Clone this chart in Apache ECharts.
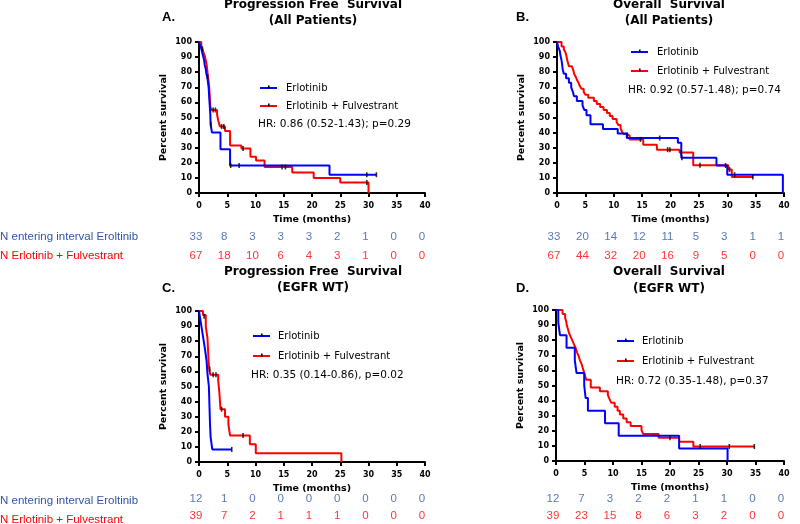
<!DOCTYPE html>
<html><head><meta charset="utf-8">
<script src="https://cdn.jsdelivr.net/npm/echarts@6/dist/echarts.min.js"></script>
<style>html,body{margin:0;padding:0;background:#fff}#c{width:800px;height:524px}</style>
</head><body><div id="c"></div>
<script>
// ---------- DATA ----------
const xTicks = [0,5,10,15,20,25,30,35,40];
// Panel A: PFS, all patients
const pfsAllErl = [[0,100],[0.3,97],[0.5,94],[0.7,91],[0.9,88],[1.0,85],[1.2,82],[1.3,79],[1.5,76],[1.6,73],[1.7,70],[1.8,64],[1.9,58],[2.0,52],[2.05,45.5],[2.3,40],[3.8,29],[5.5,18.2],[23.1,12.1],[31.4,12.1]];
const pfsAllFul = [[0,100],[0.4,97],[0.6,95.5],[0.8,93],[1.0,91],[1.2,88],[1.35,85],[1.5,80],[1.6,77],[1.7,74],[1.8,70],[1.9,64],[2.0,57],[2.2,55],[3.2,52],[3.4,48],[3.7,44],[4.6,41],[5.5,31.5],[7.5,29.5],[9.1,24],[10.1,21.5],[11.6,17.2],[16.5,13.5],[20.3,10],[25,7],[30,0]];
const pfsAllErlCens = [[2.1,45.5],[5.6,18.2],[7.1,18.2],[29.7,12.1],[31.4,12.1]];
const pfsAllFulCens = [[0.6,95.5],[1.5,77],[2.5,55],[2.9,55],[4.0,44],[4.4,44],[7.8,29.5],[14.7,17.2],[15.3,17.2],[29.7,7]];
// Panel B: OS, all patients
const osAllErl = [[0,100],[0.2,97],[0.5,94],[0.6,91],[0.8,88],[0.9,85],[1.0,82],[1.2,79],[1.6,76],[2.1,73],[2.5,70],[2.8,67],[3.0,64],[3.5,61],[4.5,58],[4.8,55],[5.2,51.5],[5.9,45.5],[8.1,42.4],[10.7,39.4],[12.3,36.4],[21.3,33.3],[21.9,23.3],[28.1,18.2],[30.0,12.1],[39.8,0]];
const osAllFul = [[0,100],[0.8,97],[1.2,95],[1.5,93],[1.7,90],[1.8,88],[2.1,84],[2.6,83],[2.9,81],[3.0,79],[3.3,77],[3.5,75],[3.8,73],[4.0,71],[4.3,69],[4.7,67],[5.0,65],[5.5,63],[6.5,61],[7.0,59],[7.6,57],[8.2,55],[8.8,53],[9.3,51],[9.8,49],[10.5,47],[10.8,45],[11.2,43],[11.4,41],[11.7,39],[12.3,38],[12.8,35.5],[15.2,32],[17.6,28.7],[21.6,26.8],[24.0,18.3],[30.2,15.5],[30.8,10.6],[34.6,10.6]];
const osAllErlCens = [[18.1,36.4],[22.0,23.3],[29.7,18.2],[31.3,12.1]];
const osAllFulCens = [[12.4,38.5],[14.7,35.5],[19.5,28.7],[19.9,28.7],[21.9,26.8],[25.2,18.3],[30.4,15.5],[34.5,10.6]];
// Panel C: PFS, EGFR WT
const pfsWtErl = [[0,100],[0.35,91.7],[0.7,83.3],[1.05,75],[1.35,66.7],[1.5,58.3],[1.75,50],[1.95,25],[2.05,16.7],[2.35,8.3],[5.8,8.3]];
const pfsWtFul = [[0,100],[0.7,97.4],[1.2,89.7],[1.5,82],[1.6,74.4],[1.7,66.7],[1.8,61.5],[2.0,57.7],[3.4,53.8],[3.6,46.2],[3.8,35],[4.6,30],[5.2,25],[5.5,17.5],[9.0,11.7],[10.05,5.8],[25.2,0]];
const pfsWtErlCens = [[5.8,8.3]];
const pfsWtFulCens = [[0.9,96.5],[1.9,61.5],[2.5,57.7],[3.0,57.7],[4.0,35],[7.8,17.5]];
// Panel D: OS, EGFR WT
const osWtErl = [[0,100],[0.4,91.7],[0.7,83.3],[1.85,75],[3.3,66.7],[3.6,58.3],[4.95,50],[5.2,41.7],[5.6,33.3],[8.6,25],[11.0,16.7],[21.6,8.3],[30.1,0]];
const osWtFul = [[0,100],[1.15,97.4],[1.6,94.9],[1.8,92.3],[1.9,89.7],[2.1,87.2],[2.3,84.6],[2.6,82],[2.9,79.5],[3.2,76.9],[3.5,74.4],[3.7,71.8],[4.0,69.2],[4.2,66.7],[4.5,64.1],[4.7,61.5],[4.9,59],[5.1,56.4],[5.3,53.8],[6.1,48.7],[7.7,46.2],[9.1,43.6],[9.4,41],[9.7,38.5],[10.3,35.9],[10.8,33.3],[11.2,30.8],[11.8,28.2],[12.4,25.6],[13.1,23.1],[15.0,20.5],[15.3,17.9],[18.0,15.4],[21.6,12.8],[24.1,9.6],[34.8,9.6]];
const osWtErlCens = [];
const osWtFulCens = [[20,15.4],[25.3,9.6],[30.4,9.6],[34.8,9.6]];
// Numbers at risk
const riskPfsAllErl = [33,8,3,3,3,2,1,0,0];
const riskPfsAllFul = [67,18,10,6,4,3,1,0,0];
const riskOsAllErl = [33,20,14,12,11,5,3,1,1];
const riskOsAllFul = [67,44,32,20,16,9,5,0,0];
const riskPfsWtErl = [12,1,0,0,0,0,0,0,0];
const riskPfsWtFul = [39,7,2,1,1,1,0,0,0];
const riskOsWtErl = [12,7,3,2,2,1,1,0,0];
const riskOsWtFul = [39,23,15,8,6,3,2,0,0];
// Text
const seriesNames = ['Erlotinib','Erlotinib + Fulvestrant'];
const riskRowLabels = ['N entering interval Eroltinib','N Erlotinib + Fulvestrant'];
const panelLetters = ['A.','B.','C.','D.'];
const titles1 = ['Progression Free  Survival','Overall  Survival','Progression Free  Survival','Overall  Survival'];
const titles2 = ['(All Patients)','(All Patients)','(EGFR WT)','(EGFR WT)'];
const hrTexts = ['HR: 0.86 (0.52-1.43); p=0.29','HR: 0.92 (0.57-1.48); p=0.74','HR: 0.35 (0.14-0.86), p=0.02','HR: 0.72 (0.35-1.48), p=0.37'];
const yName = 'Percent survival';
const xName = 'Time (months)';

// ---------- LAYOUT ----------
const BLUE = '#0000ff', RED = '#ff0000', NBLUE = '#2f55a4', NRED = '#ff0000';
const panels = [
  {grid:{left:199,top:42,width:226,height:151}, risk:{left:199,top:228,width:226,height:37},
   erl:pfsAllErl, ful:pfsAllFul, erlC:pfsAllErlCens, fulC:pfsAllFulCens, rE:riskPfsAllErl, rF:riskPfsAllFul,
   tx:313, t1y:5, t2y:21, letter:[162,17], leg:{lx:260, y1:88, y2:106, tx:286, hx:258, hy:124}},
  {grid:{left:557,top:42,width:227,height:151}, risk:{left:557,top:228,width:227,height:37},
   erl:osAllErl, ful:osAllFul, erlC:osAllErlCens, fulC:osAllFulCens, rE:riskOsAllErl, rF:riskOsAllFul,
   tx:669, t1y:5, t2y:21, letter:[516,17], leg:{lx:631, y1:52, y2:71, tx:657, hx:628, hy:90}},
  {grid:{left:199,top:311,width:226,height:151}, risk:{left:199,top:491,width:226,height:38},
   erl:pfsWtErl, ful:pfsWtFul, erlC:pfsWtErlCens, fulC:pfsWtFulCens, rE:riskPfsWtErl, rF:riskPfsWtFul,
   tx:313, t1y:272, t2y:288, letter:[162,288], leg:{lx:253, y1:336, y2:356, tx:278, hx:251, hy:375}},
  {grid:{left:556,top:310,width:228,height:151}, risk:{left:556,top:491,width:228,height:38},
   erl:osWtErl, ful:osWtFul, erlC:osWtErlCens, fulC:osWtFulCens, rE:riskOsWtErl, rF:riskOsWtFul,
   tx:669, t1y:272, t2y:289, letter:[516,288], leg:{lx:617, y1:341, y2:361, tx:642, hx:616, hy:381}}
];

const grids = [], xAxes = [], yAxes = [], series = [], graphics = [];
const axisFont = 'DejaVu Sans';
panels.forEach((p, i) => {
  const gi = grids.length;
  grids.push(Object.assign({containLabel:false}, p.grid));
  xAxes.push({gridIndex:gi, type:'value', min:0, max:40, interval:5,
    name:xName, nameLocation:'middle', nameGap:22,
    nameTextStyle:{fontFamily:axisFont, fontWeight:'bold', fontSize:9.5, color:'#000'},
    axisLine:{show:true, lineStyle:{color:'#000', width:2}},
    axisTick:{show:true, length:4, lineStyle:{color:'#000', width:2}},
    axisLabel:{fontFamily:axisFont, fontWeight:'bold', fontSize:8, color:'#000', margin:9},
    splitLine:{show:false}});
  yAxes.push({gridIndex:gi, type:'value', min:0, max:100, interval:10,
    name:yName, nameLocation:'middle', nameGap:30,
    nameTextStyle:{fontFamily:axisFont, fontWeight:'bold', fontSize:9.5, color:'#000'},
    axisLine:{show:true, lineStyle:{color:'#000', width:2}},
    axisTick:{show:true, length:4, lineStyle:{color:'#000', width:2}},
    axisLabel:{fontFamily:axisFont, fontWeight:'bold', fontSize:8, color:'#000', margin:7},
    splitLine:{show:false}});
  const lineS = (name, data, color) => ({type:'line', name, xAxisIndex:gi, yAxisIndex:gi, data, step:'end',
    symbol:'none', showSymbol:false, lineStyle:{color, width:2}, itemStyle:{color}, animation:false, z:2});
  series.push(lineS(seriesNames[1], p.ful, RED));
  series.push(lineS(seriesNames[0], p.erl, BLUE));
  const censS = (data) => ({type:'scatter', xAxisIndex:gi, yAxisIndex:gi, data, symbol:'rect',
    symbolSize:[1.6,5], itemStyle:{color:'#000'}, animation:false, z:3, silent:true});
  series.push(censS(p.fulC));
  series.push(censS(p.erlC));

  // at-risk grid
  const ri = grids.length;
  grids.push(Object.assign({containLabel:false}, p.risk));
  xAxes.push({gridIndex:ri, type:'value', min:0, max:40, interval:5, show:false});
  yAxes.push({gridIndex:ri, type:'category', data:[0,1], inverse:true, show:false});
  const riskS = (vals, row, color) => ({type:'scatter', xAxisIndex:ri, yAxisIndex:ri,
    data: vals.map((v, k) => [xTicks[k], row, v]), symbolSize:1, itemStyle:{color:'transparent'},
    animation:false, silent:true,
    label:{show:true, position:'inside', offset:[-3,0], formatter: q => q.value[2],
      fontFamily:'Liberation Sans', fontSize:11.5, color}});
  series.push(riskS(p.rE, 0, NBLUE));
  series.push(riskS(p.rF, 1, NRED));

  // titles
  const tfont = 'bold 12px "DejaVu Sans"';
  graphics.push({type:'text', style:{text:titles1[i], x:p.tx, y:p.t1y, font:tfont, fill:'#000', align:'center', textAlign:'center', verticalAlign:'middle', textVerticalAlign:'middle'}});
  graphics.push({type:'text', style:{text:titles2[i], x:p.tx, y:p.t2y, font:tfont, fill:'#000', align:'center', textAlign:'center', verticalAlign:'middle', textVerticalAlign:'middle'}});
  graphics.push({type:'text', style:{text:panelLetters[i], x:p.letter[0], y:p.letter[1], font:'bold 13px "Liberation Sans"', fill:'#000', align:'left', textAlign:'left', verticalAlign:'middle', textVerticalAlign:'middle'}});
  // legend
  const L = p.leg;
  [[L.y1, BLUE, seriesNames[0]], [L.y2, RED, seriesNames[1]]].forEach(([y, c, t]) => {
    graphics.push({type:'line', shape:{x1:L.lx, y1:y, x2:L.lx+17, y2:y}, style:{stroke:c, lineWidth:2}});
    graphics.push({type:'rect', shape:{x:L.lx+8, y:y-2.5, width:1.6, height:3}, style:{fill:'#000'}});
    graphics.push({type:'text', style:{text:t, x:L.tx, y:y, font:'10px "DejaVu Sans"', fill:'#000', align:'left', textAlign:'left', verticalAlign:'middle', textVerticalAlign:'middle'}});
  });
  graphics.push({type:'text', style:{text:hrTexts[i], x:L.hx, y:L.hy, font:'10.5px "DejaVu Sans"', fill:'#000', align:'left', textAlign:'left', verticalAlign:'middle', textVerticalAlign:'middle'}});
  // risk row labels (left column, once per row pair)
  if (i === 0 || i === 2) {
    const r = p.risk; const h = r.height;
    graphics.push({type:'text', style:{text:riskRowLabels[0], x:0, y:r.top + h/4, font:'11.5px "Liberation Sans"', fill:NBLUE, align:'left', textAlign:'left', verticalAlign:'middle', textVerticalAlign:'middle'}});
    graphics.push({type:'text', style:{text:riskRowLabels[1], x:0, y:r.top + 3*h/4, font:'11.5px "Liberation Sans"', fill:NRED, align:'left', textAlign:'left', verticalAlign:'middle', textVerticalAlign:'middle'}});
  }
});

const chart = echarts.init(document.getElementById('c'), null, {renderer:'canvas'});
chart.setOption({backgroundColor:'#fff', animation:false, grid:grids, xAxis:xAxes, yAxis:yAxes, series, graphic:graphics});
</script></body></html>
